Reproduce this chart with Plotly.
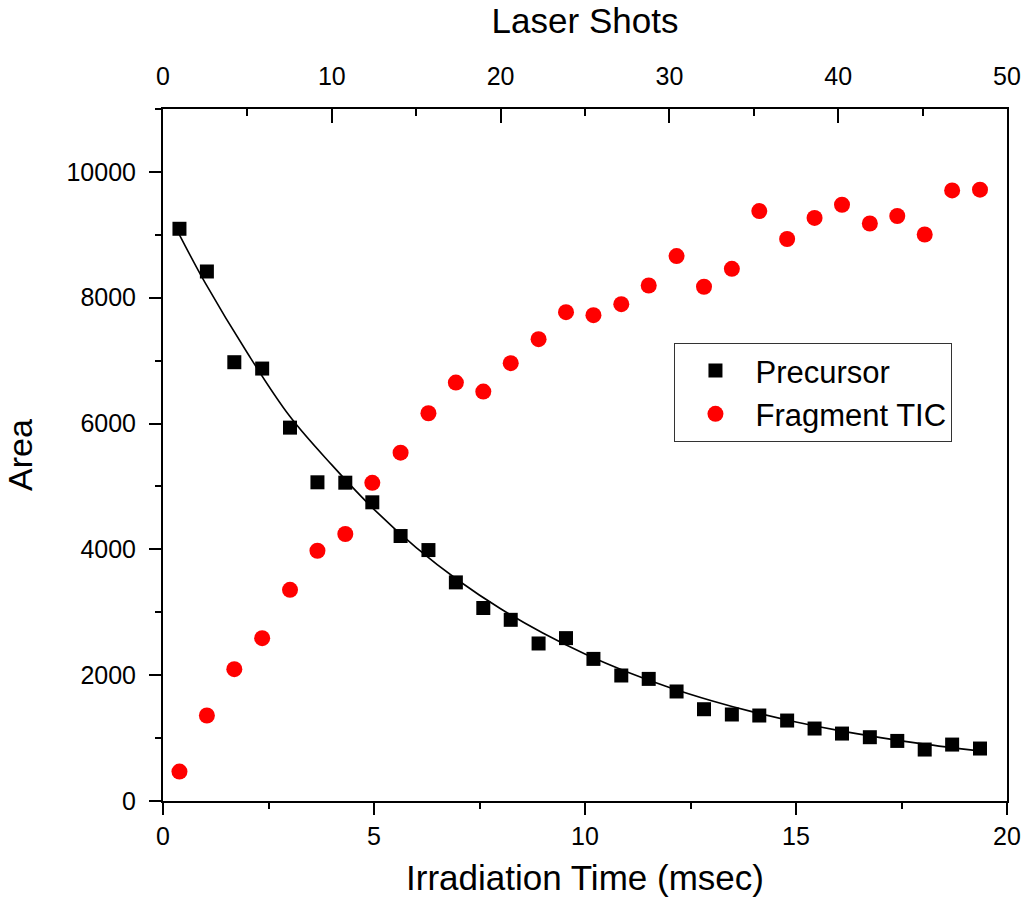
import plotly.graph_objects as go

# Irradiation time (msec) for each measurement
time_ms = [0.39, 1.04, 1.69, 2.35, 3.01, 3.66, 4.32, 4.96, 5.63, 6.29,
           6.94, 7.59, 8.24, 8.90, 9.55, 10.20, 10.86, 11.51, 12.17, 12.82,
           13.48, 14.13, 14.79, 15.44, 16.09, 16.75, 17.40, 18.05, 18.70, 19.36]

precursor = [9096, 8417, 6975, 6874, 5935, 5066, 5060, 4748, 4212, 3989,
             3475, 3068, 2880, 2504, 2589, 2259, 1995, 1941, 1741, 1459,
             1375, 1359, 1279, 1152, 1072, 1014, 955, 818, 897, 834]

fragment = [467, 1359, 2096, 2589, 3357, 3978, 4244, 5058, 5537, 6164,
            6651, 6508, 6960, 7341, 7771, 7723, 7898, 8194, 8662, 8174,
            8460, 9378, 8933, 9269, 9478, 9180, 9299, 9005, 9706, 9717]

# Fitted decay curve
fit_x = [0.39, 1.0, 2.0, 3.0, 4.0, 5.0, 6.0, 7.0, 8.0, 9.0, 10.0,
         11.0, 12.0, 13.0, 14.0, 15.0, 16.0, 17.0, 18.0, 19.36]
fit_y = [9000, 8235, 7121, 6120, 5343, 4636, 4028, 3505, 3056, 2670, 2337,
         2052, 1806, 1595, 1413, 1257, 1123, 1008, 908, 795]

x_ticks = [0, 5, 10, 15, 20]
y_ticks = [0, 2000, 4000, 6000, 8000, 10000]
y_labels = ["0", "2000", "4000", "6000", "8000", "10000"]
shot_ticks = [0, 10, 20, 30, 40, 50]

FONT = "Liberation Sans, Arial, sans-serif"

fig = go.Figure()

fig.add_trace(go.Scatter(
    x=fit_x, y=fit_y, mode="lines", line=dict(color="black", width=1.6, shape="spline"),
    showlegend=False, hoverinfo="skip"))

fig.add_trace(go.Scatter(
    x=time_ms, y=precursor, mode="markers", name="Precursor",
    marker=dict(symbol="square", size=14, color="black", line=dict(width=0))))

fig.add_trace(go.Scatter(
    x=time_ms, y=fragment, mode="markers", name="Fragment TIC",
    marker=dict(symbol="circle", size=16, color="#ff0000", line=dict(width=0))))

# invisible trace to activate the top (laser shots) axis
fig.add_trace(go.Scatter(
    x=[shot_ticks[0], shot_ticks[-1]], y=[0, 0], xaxis="x2", mode="markers",
    marker=dict(opacity=0), showlegend=False, hoverinfo="skip"))

fig.update_layout(
    width=1033, height=907, autosize=False,
    margin=dict(l=163, r=19, t=109, b=106),
    paper_bgcolor="white", plot_bgcolor="white",
    font=dict(family=FONT, color="black"),
    xaxis=dict(
        range=[0, 20], tickvals=x_ticks, ticks="outside", ticklen=12, tickwidth=2,
        tickcolor="black", showline=True, linecolor="black", linewidth=2,
        mirror=False, showgrid=False, zeroline=False,
        tickfont=dict(size=25), ticklabelstandoff=0,
        minor=dict(dtick=2.5, ticklen=6, tickwidth=2, tickcolor="black", ticks="outside", showgrid=False),
        title=dict(text="Irradiation Time (msec)", font=dict(size=35), standoff=16),
    ),
    xaxis2=dict(
        range=[0, 50], tickvals=shot_ticks, overlaying="x", side="top", anchor="y",
        ticks="inside", ticklen=14, tickwidth=2, tickcolor="black",
        showline=True, linecolor="black", linewidth=2, showgrid=False, zeroline=False,
        tickfont=dict(size=25), ticklabelstandoff=12,
        minor=dict(dtick=5, ticklen=7, tickwidth=2, tickcolor="black", ticks="inside", showgrid=False),
        title=dict(text="Laser Shots", font=dict(size=35), standoff=18),
    ),
    yaxis=dict(
        range=[0, 11000], tickvals=y_ticks, ticktext=y_labels, ticks="outside", ticklen=12, tickwidth=2,
        tickcolor="black", showline=True, linecolor="black", linewidth=2,
        mirror=True, showgrid=False, zeroline=False,
        tickfont=dict(size=25), ticklabelstandoff=8,
        minor=dict(dtick=1000, ticklen=6, tickwidth=2, tickcolor="black", ticks="outside", showgrid=False),
        title=dict(text="Area", font=dict(size=34), standoff=24),
    ),
    legend=dict(
        x=0.606, y=0.662, xanchor="left", yanchor="top",
        bgcolor="white", bordercolor="#333333", borderwidth=1,
        font=dict(size=31), itemwidth=70, tracegroupgap=0,
    ),
)

fig.write_html("out.html")
